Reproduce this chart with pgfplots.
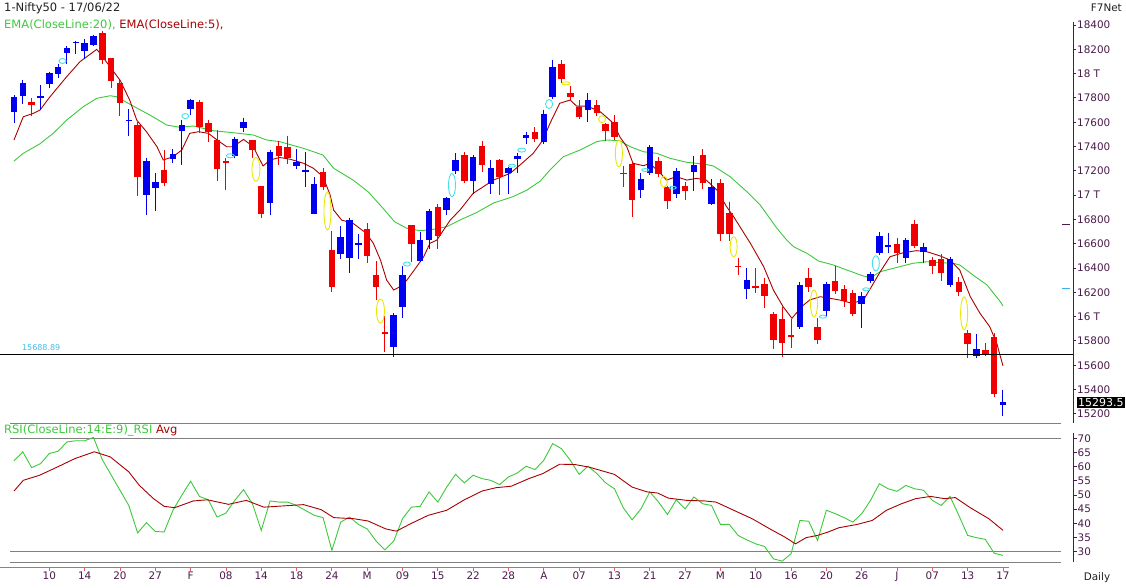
\documentclass[border=0pt]{standalone}
\usepackage{pgfplots}
\usepackage{pgfplotstable}
\usepackage{fontspec}
\setmainfont{DejaVu Sans}
\pgfplotsset{compat=1.18}

\definecolor{cblue}{HTML}{0000F0}
\definecolor{cred}{HTML}{F00000}
\definecolor{emag}{HTML}{3CC83C}
\definecolor{emar}{HTML}{A80000}
\definecolor{axp}{HTML}{4A1A4A}
\definecolor{gapc}{HTML}{48E0E8}
\definecolor{gapy}{HTML}{E8E800}
\definecolor{xred}{HTML}{E06060}
\definecolor{txt}{HTML}{202020}
\definecolor{grl}{HTML}{808080}

% daily OHLC, index 0 = 04 Jan 2022 ... 112 = 17 Jun 2022
\pgfplotstableread{
i o h l c
0 17681 17827 17593 17805
1 17820 17944 17748 17925
2 17768 17798 17655 17745
3 17797 17905 17704 17812
4 17913 18017 17879 18003
5 17998 18081 17965 18055
6 18170 18227 18082 18212
7 18257 18272 18163 18257
8 18185 18286 18120 18256
9 18235 18321 18228 18308
10 18337 18350 18083 18113
11 18129 18129 17884 17938
12 17921 17944 17648 17757
13 17613 17707 17485 17617
14 17575 17599 16997 17149
15 17001 17309 16837 17277
16 17062 17182 16866 17110
17 17208 17373 17077 17102
18 17301 17381 17264 17340
19 17529 17622 17244 17576
20 17706 17794 17658 17780
21 17767 17781 17511 17560
22 17591 17617 17435 17516
23 17456 17536 17119 17214
24 17280 17306 17044 17267
25 17320 17477 17306 17464
26 17554 17639 17520 17606
27 17451 17454 17303 17374
28 17077 17077 16810 16843
29 16933 17375 16839 17352
30 17408 17442 17251 17322
31 17398 17490 17253 17304
32 17236 17380 17219 17276
33 17192 17352 17070 17207
34 16847 17148 16843 17092
35 17194 17220 17039 17063
36 16548 16705 16203 16248
37 16516 16748 16478 16658
38 16481 16815 16356 16794
39 16593 16678 16478 16606
40 16723 16768 16442 16498
41 16339 16456 16133 16245
42 15867 16004 15711 15863
43 15747 16028 15671 16013
44 16079 16418 15990 16345
45 16757 16757 16447 16594
46 16457 16694 16448 16630
47 16633 16888 16555 16871
48 16900 16928 16556 16663
49 16876 16987 16837 16975
50 17200 17345 17175 17287
51 17329 17353 17096 17117
52 17120 17334 17007 17316
53 17405 17443 17194 17246
54 17094 17291 17006 17223
55 17289 17295 17004 17153
56 17181 17235 17006 17222
57 17297 17343 17181 17325
58 17468 17523 17422 17498
59 17519 17559 17435 17465
60 17436 17704 17422 17670
61 17809 18115 17791 18053
62 18081 18114 17922 17957
63 17842 17901 17779 17807
64 17723 17787 17623 17640
65 17698 17842 17600 17784
66 17740 17779 17650 17675
67 17585 17596 17443 17530
68 17600 17663 17457 17476
69 17183 17238 17068 17174
70 17258 17275 16824 16959
71 17045 17186 16979 17136
72 17179 17414 17165 17393
73 17281 17315 17149 17172
74 17067 17079 16889 16954
75 17009 17220 16980 17201
76 17073 17110 16958 17038
77 17189 17322 17030 17245
78 17329 17377 17053 17103
79 16925 17132 16917 17069
80 17096 17132 16623 16678
81 16855 16946 16623 16683
82 16415 16484 16340 16411
83 16227 16404 16143 16301
84 16249 16404 16197 16240
85 16270 16318 16067 16167
86 16022 16042 15736 15808
87 15977 16083 15671 15782
88 15845 15977 15739 15842
89 15912 16284 15900 16259
90 16318 16400 16202 16240
91 15917 15985 15775 15810
92 16043 16284 15993 16266
93 16291 16415 16185 16215
94 16225 16262 16078 16125
95 16196 16223 16006 16025
96 16105 16204 15903 16170
97 16296 16370 16279 16352
98 16527 16695 16506 16661
99 16578 16691 16521 16585
100 16595 16648 16438 16523
101 16481 16646 16443 16628
102 16761 16793 16567 16584
103 16530 16610 16444 16570
104 16469 16487 16347 16416
105 16474 16514 16293 16356
106 16263 16492 16243 16478
107 16283 16324 16172 16202
108 15868 15887 15659 15774
109 15674 15858 15659 15732
110 15729 15783 15678 15692
111 15832 15863 15335 15361
112 15272 15400 15184 15294
}\candles

% EMA(20)
\pgfplotstableread{
i v
0 17281
1.05 17344
2.9 17421
4.45 17509
5.97 17618
7.85 17728
9.37 17797
10.9 17818
11.6 17810
13.5 17733
15.4 17659
17.3 17577
18.8 17558
20.3 17569
22.6 17530
24.8 17514
27.1 17495
28.6 17454
30.1 17440
32.8 17385
35.0 17330
36.2 17221
38.4 17124
40.1 17028
41.8 16891
43.1 16781
44.5 16727
46.0 16707
47.5 16719
49.0 16740
50.5 16795
52.4 16857
54.3 16935
56.5 16987
58.1 17042
59.6 17116
60.7 17207
62.2 17316
64.1 17371
66.0 17440
67.1 17454
68.6 17448
69.8 17398
71.3 17357
72.8 17344
74.3 17303
76.2 17270
78.1 17256
79.2 17240
81.1 17152
83.0 17028
84.5 16919
86.4 16727
87.5 16631
88.3 16575
89.8 16521
91.1 16458
92.8 16425
94.3 16384
96.2 16334
97.1 16324
98.1 16370
99.6 16398
101.8 16439
103.4 16452
104.9 16444
106.4 16439
107.1 16425
108.6 16343
110.2 16260
111.7 16123
112 16087
}\emaslow

% EMA(5)
\pgfplotstableread{
i v
0 17454
1.05 17645
2.19 17673
2.94 17700
4.08 17810
5.97 17975
7.47 18098
9.37 18200
9.74 18167
10.87 18057
12.0 17947
13.1 17783
13.9 17618
15.0 17522
16.2 17398
16.9 17289
18.0 17316
19.0 17371
19.9 17509
20.9 17522
22.0 17509
23.0 17454
24.1 17398
24.8 17398
26.0 17459
27.1 17398
28.2 17240
29.0 17289
30.1 17310
31.3 17295
32.8 17262
33.9 17221
35.0 17152
35.8 17001
36.2 16877
37.1 16795
38.4 16768
39.9 16686
40.7 16603
41.5 16466
42.2 16301
43.0 16219
43.7 16246
44.5 16301
45.6 16411
46.4 16493
47.1 16603
47.9 16631
48.4 16686
49.4 16795
50.5 16877
52.0 17015
54.3 17124
56.2 17180
57.3 17248
58.8 17344
59.9 17454
60.7 17591
61.8 17756
63.0 17783
63.7 17733
64.9 17733
66.4 17686
67.9 17591
68.6 17481
69.4 17398
70.1 17262
71.3 17242
72.0 17262
73.2 17180
73.9 17124
75.0 17152
76.2 17124
77.3 17138
78.4 17124
79.6 17042
80.7 16905
81.5 16822
83.4 16603
84.9 16411
86.0 16219
87.1 16082
88.1 15986
89.2 16082
90.1 16137
91.3 16164
92.4 16151
93.5 16137
94.9 16110
96.2 16137
97.1 16246
98.1 16370
99.2 16493
100.7 16526
102.2 16543
103.4 16534
104.9 16499
106.0 16466
107.1 16384
108.3 16164
109.4 16027
110.5 15917
111.3 15780
112.0 15594
}\emafast

% gap markers: position, price, half width / half height (pt)
\pgfplotstableread{
i p rx ry
5.5 18104 3.5 2.5
19.4 17651 3.5 2.5
24.5 17324 4 2
44.5 16433 3.5 2
49.6 17083 3.5 11.5
56.4 17242 3.5 1.5
57.5 17371 4 2
60.6 17750 3.5 4.5
71.5 17207 3.5 1.5
74.6 17061 3.5 1.5
91.6 16000 3.5 1.5
96.5 16225 3.5 1.5
97.6 16439 3.5 7.5
}\gapup
\pgfplotstableread{
i p rx ry
27.4 17212 4 12
35.5 16869 3.5 19
41.5 16046 4 12
62.5 17920 4 1.5
66.6 17626 3.5 3.5
68.5 17344 3.5 13.5
73.6 17110 3.5 5.5
81.5 16575 3.5 10
90.6 16109 3.5 13.5
107.6 16027 3.5 16.5
}\gapdown

% RSI(14) and its average
\pgfplotstableread{
i v
0 62.1
1 65.3
2 59.7
3 61.1
4 64.7
5 65.5
6 68.8
7 69.2
8 69.2
9 70.4
10 62.5
12 51.7
13 46.3
14 36.6
15 40.2
16 37.1
17 36.9
18 44.6
19 49.9
20 54.9
21 49.5
22 48.3
23 42.2
24 43.6
25 48.1
26 51.9
27 46.9
28 37.5
29 47.9
30 47.5
31 47.5
32 46.3
34 42.8
35 42.0
36 30.4
37 40.4
38 42.2
39 39.6
40 38.0
41 33.7
42 30.6
43 33.7
44 41.6
45 45.7
46 46.0
47 51.1
48 47.5
49 52.8
50 57.3
51 54.3
52 57.0
53 55.8
54 55.2
55 53.7
56 56.4
57 57.8
58 60.2
59 59.0
60 62.3
61 68.2
62 66.4
63 62.3
64 57.3
65 60.2
66 57.6
67 54.3
68 52.2
69 45.5
70 41.2
71 45.1
72 51.1
73 47.5
74 43.1
75 48.3
76 45.1
77 49.3
78 46.9
79 46.3
80 39.6
81 39.6
82 35.7
83 34.1
84 32.7
85 31.8
86 27.4
87 26.6
88 29.2
89 41.0
90 40.7
91 33.9
92 44.6
93 43.4
94 42.0
95 40.4
96 43.4
97 48.1
98 54.0
99 52.2
100 51.3
101 53.4
102 52.2
103 51.7
104 48.1
105 46.3
106 49.5
107 42.8
108 35.7
109 34.9
110 34.3
111 29.4
112 28.6
}\rsi
\pgfplotstableread{
i v
0 51.4
1.05 55.2
2.9 57.0
4.9 59.9
6.9 62.9
9.1 65.3
10.9 63.5
13.0 58.2
14.2 53.4
15.8 48.7
17.0 46.0
18.2 45.5
20.3 47.9
21.9 48.3
24.3 46.7
26.3 48.1
28.3 45.7
30.8 46.2
32.8 46.6
34.8 44.8
36.2 42.0
38.5 41.6
40.1 40.8
42.1 38.0
43.3 37.2
44.9 39.8
46.9 42.8
49.0 44.6
51.0 48.3
53.0 51.4
54.6 52.6
56.3 53.1
58.3 55.8
59.9 57.6
61.8 60.9
63.5 60.8
65.1 59.9
68.0 57.3
70.0 52.8
71.7 51.1
72.9 50.7
74.1 48.9
76.2 48.1
78.2 47.9
79.5 47.5
81.5 44.6
83.6 41.6
85.6 38.0
87.3 35.1
88.5 32.7
89.7 34.9
91.0 35.7
92.2 36.9
93.4 38.4
95.5 39.6
97.2 41.0
98.8 44.6
100.5 46.9
102.1 48.7
103.8 49.5
105.4 48.7
106.6 49.1
108.3 45.5
110.4 41.6
112 37.5
}\rsiavg

\pgfplotsset{
  wick/.style={draw=none, mark=none, forget plot,
    error bars/y dir=minus, error bars/y explicit, error bars/error mark=none,
    error bars/error bar style={draw=#1, line width=1pt}},
  body/.style={draw=none, mark=none, forget plot,
    error bars/y dir=both, error bars/y explicit, error bars/error mark=none,
    error bars/error bar style={draw=#1, line width=6.5pt}},
  gapmark/.style={scatter, only marks, mark=o, mark size=1pt, point meta=0,
    scatter/use mapped color={draw=#1, fill=none, line width=0.9pt},
    visualization depends on={\thisrow{rx} \as \gaprx},
    visualization depends on={\thisrow{ry} \as \gapry},
    scatter/@pre marker code/.append style={/tikz/xscale=\gaprx, /tikz/yscale=\gapry}},
}

\begin{document}
\begin{tikzpicture}[font=\fontsize{10.4}{12}\selectfont]
\useasboundingbox (0,0) rectangle (1126pt,-587pt);

% price panel
\begin{axis}[
  at={(0pt,-423pt)}, anchor=south west,
  scale only axis, width=1073pt, height=401pt,
  xmin=-1.5855, xmax=119.93, ymin=15124.5, ymax=18425,
  axis x line=none, axis y line*=right,
  scaled y ticks=false,
  y axis line style={draw=axp, line width=0.9pt, -},
  ytick={15200,15400,...,18400},
  yticklabels={15200,15400,15600,15800,16 T,16200,16400,16600,16800,17 T,17200,17400,17600,17800,18 T,18200,18400},
  ytick style={draw=axp, line width=0.9pt},
  tick align=outside, major tick length=3pt,
  yticklabel style={text=axp, font=\fontsize{10.4}{12}\selectfont, anchor=west, inner sep=1pt},
  /pgf/number format/assume math mode=true,
  clip=false,
]
\addplot[emag, line width=0.9pt] table[x=i, y=v] {\emaslow};
\addplot[emar, line width=0.9pt] table[x=i, y=v] {\emafast};

\addplot[restrict expr to domain={\thisrow{c}-\thisrow{o}}{0:100000}, wick=cblue]
  table[x=i, y=h, y error expr={\thisrow{h}-\thisrow{l}}] {\candles};
\addplot[restrict expr to domain={\thisrow{c}-\thisrow{o}}{0:100000}, body=cblue]
  table[x=i, y expr={(\thisrow{o}+\thisrow{c})/2}, y error expr={max(abs(\thisrow{c}-\thisrow{o})/2,5)}] {\candles};
\addplot[restrict expr to domain={\thisrow{c}-\thisrow{o}}{-100000:-0.5}, wick=cred]
  table[x=i, y=h, y error expr={\thisrow{h}-\thisrow{l}}] {\candles};
\addplot[restrict expr to domain={\thisrow{c}-\thisrow{o}}{-100000:-0.5}, body=cred]
  table[x=i, y expr={(\thisrow{o}+\thisrow{c})/2}, y error expr={max(abs(\thisrow{c}-\thisrow{o})/2,5)}] {\candles};

\addplot[gapmark=gapc] table[x=i, y=p] {\gapup};
\addplot[gapmark=gapy] table[x=i, y=p] {\gapdown};

% support level and panel separator
\addplot[black, line width=1.3pt] coordinates {(-1.5855,15688.89) (119.93,15688.89)};
\addplot[grl, line width=0.9pt] coordinates {(-0.45,15124.5) (118.6,15124.5)};
\addplot[axp, line width=1pt] coordinates {(118.7,16762) (119.6,16762)};
\addplot[gapc!80!blue, line width=1pt] coordinates {(118.7,16235) (119.6,16235)};

\node[anchor=west, inner sep=0pt, text=gapc!85!blue, font=\fontsize{8}{9}\selectfont] at (axis cs:0.9,15742) {15688.89};
\node[anchor=west, fill=black, text=white, inner sep=1.3pt, font=\fontsize{11}{12}\selectfont] at (axis cs:120.35,15290) {15293.5};
\end{axis}

% RSI panel
\begin{axis}[
  at={(0pt,-562pt)}, anchor=south west,
  scale only axis, width=1073pt, height=129pt,
  xmin=-1.5855, xmax=119.93, ymin=26.28, ymax=71.95,
  axis y line*=right, axis x line*=bottom,
  axis x line shift=5pt,
  x axis line style={draw=none},
  y axis line style={draw=axp, line width=0.9pt, -},
  ytick={30,35,...,70},
  ytick style={draw=axp, line width=0.9pt},
  xtick={4,8,...,112},
  xticklabels={10,14,20,27,F,08,14,18,24,M,09,15,22,28,A,07,13,21,27,M,10,16,20,26,J,07,13,17},
  xtick style={draw=xred, line width=0.8pt},
  tick align=outside, major tick length=3.5pt,
  yticklabel style={text=axp, font=\fontsize{10.4}{12}\selectfont, anchor=west, inner sep=1pt},
  xticklabel style={text=axp, font=\fontsize{10.4}{12}\selectfont, inner sep=1pt},
  /pgf/number format/assume math mode=true,
  clip=false,
]
\addplot[grl, line width=0.9pt] coordinates {(-0.45,70) (118.6,70)};
\addplot[grl, line width=0.9pt] coordinates {(-0.45,30) (118.6,30)};
\addplot[grl, line width=0.9pt] coordinates {(-0.45,26.28) (118.6,26.28)};
\addplot[xred, line width=0.9pt] coordinates {(-1.5855,24.51) (112.7,24.51)};
\addplot[emag, line width=0.9pt] table[x=i, y=v] {\rsi};
\addplot[emar, line width=0.9pt] table[x=i, y=v] {\rsiavg};
\end{axis}

% headings
\begin{scope}[font=\fontsize{11.5}{13}\selectfont]
\node[anchor=west, inner sep=0pt, text=txt] at (4pt,-8pt) {1-Nifty50 - 17/06/22};
\node[anchor=west, inner sep=0pt] at (4pt,-25pt) {\textcolor{emag}{EMA(CloseLine:20),} \textcolor{emar}{EMA(CloseLine:5),}};
\node[anchor=west, inner sep=0pt] at (4pt,-430pt) {\textcolor{emag}{RSI(CloseLine:14:E:9)\_RSI} \textcolor{emar}{Avg}};
\end{scope}
\node[anchor=east, inner sep=0pt, text=txt] at (1122pt,-8pt) {F7Net};
\node[inner sep=0pt, text=txt] at (1097pt,-578pt) {Daily};
\end{tikzpicture}
\end{document}
